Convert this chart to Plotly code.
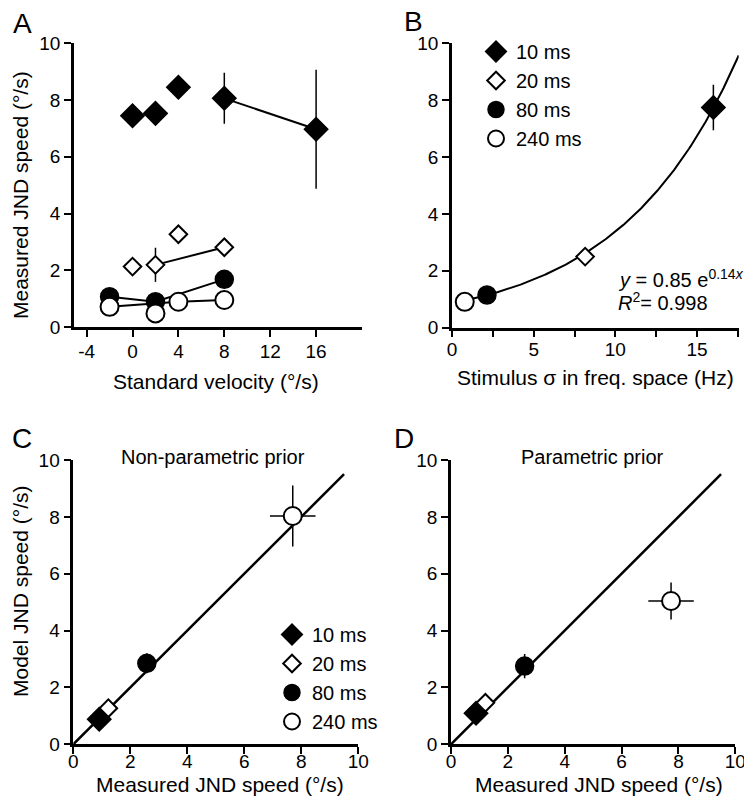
import numpy as np
import plotly.graph_objects as go

W, H = 744, 807
FONT = "Liberation Sans, Arial, Helvetica, sans-serif"

# ---------------- data ----------------
series_names = ["10 ms", "20 ms", "80 ms", "240 ms"]

# Panel A: measured JND speed vs standard velocity
a_x_10 = [0, 2, 4, 8, 16]
a_y_10 = [7.45, 7.53, 8.45, 8.06, 6.97]
a_err_10 = [0, 0, 0, 0.9, 2.1]
a_line_10 = [3, 4]            # indices joined by a line

a_x_20 = [0, 2, 4, 8]
a_y_20 = [2.13, 2.19, 3.27, 2.81]
a_err_20 = [0, 0.6, 0, 0]
a_line_20 = [1, 3]

a_x_80 = [-2, 2, 8]
a_y_80 = [1.07, 0.89, 1.68]
a_line_80 = [0, 1, 2]

a_x_240 = [-2, 2, 4, 8]
a_y_240 = [0.71, 0.48, 0.89, 0.95]
a_line_240 = [0, 2, 3]

a_xticks = [-4, 0, 4, 8, 12, 16]
a_xticktext = ["-4", "0", "4", "8", "12", "16"]

# Panel B: JND vs stimulus sigma (10, 20, 80, 240 ms)
b_x = [16.0, 8.15, 2.14, 0.78]
b_y = [7.74, 2.5, 1.15, 0.91]
b_err = [0.8, 0, 0, 0]
fit_a = 0.85
fit_b = 0.138
fit_x_range = [0.78, 17.55]
b_xticks = [0, 5, 10, 15]

# Panel C: non-parametric prior (10, 20, 80, 240 ms)
c_x = [0.91, 1.23, 2.58, 7.7]
c_y = [0.88, 1.27, 2.85, 8.03]
c_xerr = [0, 0, 0, 0.8]
c_yerr = [0, 0, 0.35, 1.07]

# Panel D: parametric prior
d_x = [0.88, 1.21, 2.59, 7.74]
d_y = [1.09, 1.46, 2.75, 5.04]
d_xerr = [0, 0, 0, 0.8]
d_yerr = [0, 0, 0.43, 0.65]

identity_line = [0, 9.5]
ticks_0_10 = [0, 2, 4, 6, 8, 10]

# ---------------- styles ----------------
styles = [
    dict(symbol="diamond", size=18, color="black", line=dict(color="black", width=1.5)),
    dict(symbol="diamond", size=13.5, color="white", line=dict(color="black", width=2)),
    dict(symbol="circle", size=18, color="black", line=dict(color="black", width=1.5)),
    dict(symbol="circle", size=18, color="white", line=dict(color="black", width=2)),
]


def px_x(p):
    return p / W


def px_y(p):
    return 1 - p / H


fig = go.Figure()

# ---- Panel A ----
a_sets = [
    (a_x_10, a_y_10, a_err_10, a_line_10),
    (a_x_20, a_y_20, a_err_20, a_line_20),
    (a_x_80, a_y_80, None, a_line_80),
    (a_x_240, a_y_240, None, a_line_240),
]
for xs, ys, err, idx in a_sets:
    fig.add_trace(go.Scatter(
        x=[xs[i] for i in idx], y=[ys[i] for i in idx], mode="lines",
        line=dict(color="black", width=2), xaxis="x", yaxis="y",
        showlegend=False, hoverinfo="skip", cliponaxis=False))
for k, (xs, ys, err, idx) in enumerate(a_sets):
    fig.add_trace(go.Scatter(
        x=xs, y=ys, mode="markers", marker=styles[k], xaxis="x", yaxis="y",
        error_y=dict(type="data", array=err if err is not None else [0] * len(xs),
                     color="black", thickness=1.5, width=0, visible=err is not None),
        showlegend=False, cliponaxis=False, name=series_names[k]))

# ---- Panel B ----
fx = np.linspace(fit_x_range[0], fit_x_range[1], 200)
fig.add_trace(go.Scatter(
    x=fx, y=fit_a * np.exp(fit_b * fx), mode="lines",
    line=dict(color="black", width=2), xaxis="x2", yaxis="y2",
    showlegend=False, hoverinfo="skip", cliponaxis=False))
for k in range(4):
    fig.add_trace(go.Scatter(
        x=[b_x[k]], y=[b_y[k]], mode="markers", marker=styles[k],
        error_y=dict(type="data", array=[b_err[k]], color="black", thickness=1.5, width=0,
                     visible=b_err[k] > 0),
        xaxis="x2", yaxis="y2", name=series_names[k], legend="legend",
        showlegend=True, cliponaxis=False))

# ---- Panels C & D ----
for xs, ys, xe, ye, ax, ay, lg in [
    (c_x, c_y, c_xerr, c_yerr, "x3", "y3", "legend2"),
    (d_x, d_y, d_xerr, d_yerr, "x4", "y4", None),
]:
    fig.add_trace(go.Scatter(
        x=identity_line, y=identity_line, mode="lines",
        line=dict(color="black", width=2.5), xaxis=ax, yaxis=ay,
        showlegend=False, hoverinfo="skip", cliponaxis=False))
    for k in range(4):
        kw = dict(legend=lg, showlegend=True) if lg else dict(showlegend=False)
        fig.add_trace(go.Scatter(
            x=[xs[k]], y=[ys[k]], mode="markers", marker=styles[k],
            error_x=dict(type="data", array=[xe[k]], color="black", thickness=1.5, width=0,
                         visible=xe[k] > 0),
            error_y=dict(type="data", array=[ye[k]], color="black", thickness=1.5, width=0,
                         visible=ye[k] > 0),
            xaxis=ax, yaxis=ay, name=series_names[k], cliponaxis=False, **kw))

# ---------------- axes ----------------
tickfont = dict(family=FONT, size=19, color="black")
common = dict(showline=True, linecolor="black", linewidth=2.5, ticks="outside",
              ticklen=7, tickwidth=2, tickcolor="black", showgrid=False,
              zeroline=False, tickfont=tickfont, fixedrange=True, automargin=False,
              mirror=False, ticklabeloverflow="allow")

layout_axes = dict(
    xaxis=dict(domain=[px_x(74), px_x(362)], range=[-5.1, 20], anchor="y",
               tickvals=a_xticks, ticktext=a_xticktext, ticklabelstandoff=-2, **common),
    yaxis=dict(domain=[px_y(327), px_y(43.3)], range=[0, 10], anchor="x",
               tickvals=ticks_0_10, **common),
    xaxis2=dict(domain=[px_x(452), px_x(738.7)], range=[0, 17.55], anchor="y2",
                tickvals=b_xticks, ticklabelstandoff=-4,
                minor=dict(tick0=0, dtick=2.5, ticks="outside", ticklen=7, tickwidth=2,
                           tickcolor="black", showgrid=False),
                **common),
    yaxis2=dict(domain=[px_y(327.7), px_y(43.3)], range=[0, 10], anchor="x2",
                tickvals=ticks_0_10, **common),
    xaxis3=dict(domain=[px_x(73.3), px_x(358.3)], range=[0, 10], anchor="y3",
                tickvals=ticks_0_10, ticklabelstandoff=-9, **common),
    yaxis3=dict(domain=[px_y(744.3), px_y(460)], range=[0, 10], anchor="x3",
                tickvals=ticks_0_10, **common),
    xaxis4=dict(domain=[px_x(451), px_x(735.3)], range=[0, 10], anchor="y4",
                tickvals=ticks_0_10, ticklabelstandoff=-9, **common),
    yaxis4=dict(domain=[px_y(744.3), px_y(460)], range=[0, 10], anchor="x4",
                tickvals=ticks_0_10, **common),
)

# ---------------- text ----------------
annos = []


def txt(text, x, y, size=21, xanchor="center", angle=0):
    annos.append(dict(text=text, x=px_x(x), y=px_y(y), xref="paper", yref="paper",
                      xanchor=xanchor, yanchor="middle", showarrow=False,
                      textangle=angle, font=dict(family=FONT, size=size, color="black")))


txt("A", 22.5, 23, size=28)
txt("B", 413.7, 21.7, size=28)
txt("C", 22, 438, size=28)
txt("D", 403.7, 438.3, size=28)

txt("Measured JND speed (°/s)", 20, 195, angle=-90)
txt("Model JND speed (°/s)", 20, 592, angle=-90)
txt("Standard velocity (°/s)", 216, 381)
txt("Stimulus σ in freq. space (Hz)", 595, 377)
txt("Measured JND speed (°/s)", 220, 784)
txt("Measured JND speed (°/s)", 599, 784)
txt("Non-parametric prior", 213.3, 457, size=20)
txt("Parametric prior", 592.5, 457, size=20)
txt("<i>y</i> = 0.85 e<sup>0.14<i>x</i></sup>", 616, 278, size=20, xanchor="left")
txt("<i>R</i><sup>2</sup>= 0.998", 616, 301, size=20, xanchor="left")

legend_common = dict(font=dict(family=FONT, size=20, color="black"),
                     bgcolor="rgba(0,0,0,0)", borderwidth=0, itemwidth=30,
                     tracegroupgap=0, itemclick=False, itemdoubleclick=False,
                     xanchor="left", yanchor="top")

fig.update_layout(
    template="none",
    width=W, height=H, margin=dict(l=0, r=0, t=0, b=0, pad=0, autoexpand=False),
    paper_bgcolor="white", plot_bgcolor="white",
    font=dict(family=FONT, size=20, color="black"),
    annotations=annos, hovermode=False,
    legend=dict(x=px_x(476), y=px_y(32), **legend_common),
    legend2=dict(x=px_x(272), y=px_y(615), **legend_common),
    **layout_axes,
)

fig.write_html(
    "out.html",
    config={"displayModeBar": False, "staticPlot": False},
    post_script="document.body.style.margin='0';document.body.style.overflow='hidden';",
)
